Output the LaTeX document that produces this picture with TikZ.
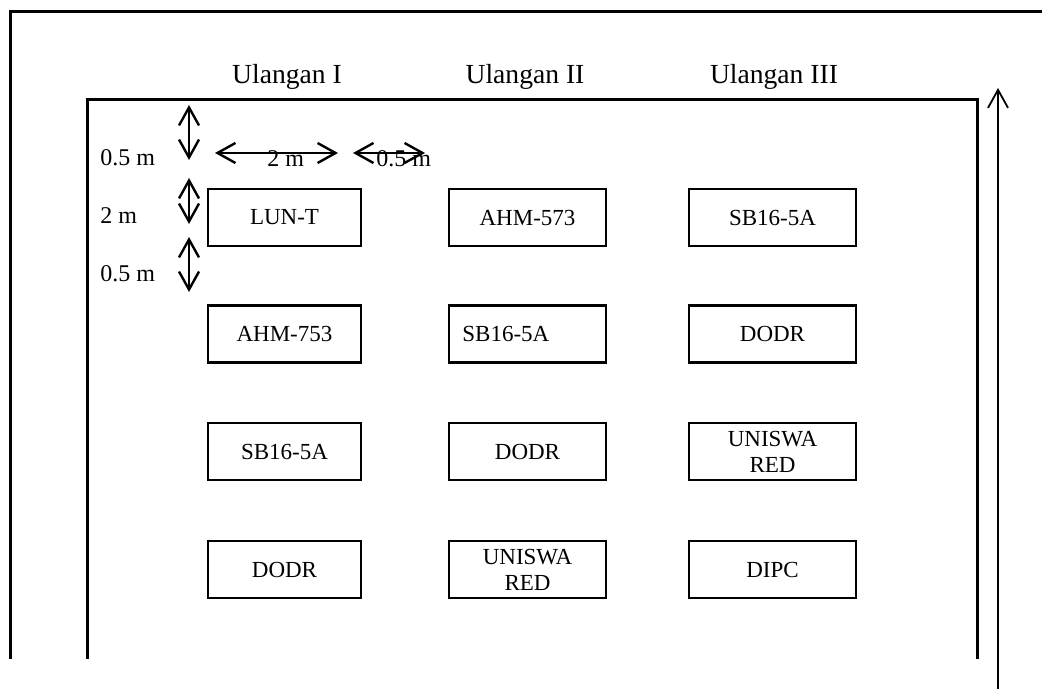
\documentclass[tikz,border=0pt]{standalone}
\usepackage{fontspec}
\setmainfont{Liberation Serif}
\usetikzlibrary{arrows.meta}
\tikzset{
  frame/.style={line width=1.5pt, line cap=rect},
  plotbox/.style={draw, line width=1.2pt, minimum height=28.5pt, inner sep=0pt, align=center,
    font=\fontsize{11.5pt}{13pt}\selectfont},
  dimarrow/.style={line width=1.2pt, {Straight Barb[length=9pt,width=10pt]}-{Straight Barb[length=9pt,width=10pt]}},
  uparrow/.style={line width=0.9pt, -{Straight Barb[length=9pt,width=10pt]}},
  lbl/.style={font=\fontsize{12pt}{14pt}\selectfont, inner sep=0pt, anchor=base west},
  hdr/.style={font=\fontsize{13.8pt}{16pt}\selectfont, inner sep=0pt, anchor=base}
}
\begin{document}
\begin{tikzpicture}[x=0.5pt,y=-0.5pt]
\useasboundingbox (0,0) rectangle (1042,689);
% outer frame
\coordinate (o1) at (10,12);
\coordinate (o2) at (1042,12);
\coordinate (o3) at (10,657);
\draw[frame] (o3) -- (o1) -- (o2);
% inner frame
\coordinate (i1) at (87,657);
\coordinate (i2) at (87,100);
\coordinate (i3) at (977,100);
\coordinate (i4) at (977,657);
\draw[frame] (i1) -- (i2) -- (i3) -- (i4);
% right arrow
\coordinate (ra) at (998,689);
\coordinate (rb) at (998,88);
\draw[uparrow] (ra) -- (rb);
% headers
\node[hdr] (h1) at (287,84) {Ulangan I};
\node[hdr] (h2) at (525,84) {Ulangan II};
\node[hdr] (h3) at (774,84) {Ulangan III};
% boxes
\node[plotbox, minimum width=76.5pt] (b11) at (284.5,217.5) {LUN-T};
\node[plotbox, minimum width=78.5pt] (b12) at (527.5,217.5) {AHM-573};
\node[plotbox, minimum width=83.5pt] (b13) at (772.5,217.5) {SB16-5A};
\node[plotbox, minimum width=76.5pt] (b21) at (284.5,334) {AHM-753};
\node[plotbox, minimum width=78.5pt] (b22) at (527.5,334) {};
\node[font=\fontsize{11.5pt}{13pt}\selectfont, inner sep=0pt, anchor=west] (t22) at (462,334) {SB16-5A};
\node[plotbox, minimum width=83.5pt] (b23) at (772.5,334) {DODR};
\node[plotbox, minimum width=76.5pt] (b31) at (284.5,451.5) {SB16-5A};
\node[plotbox, minimum width=78.5pt] (b32) at (527.5,451.5) {DODR};
\node[plotbox, minimum width=83.5pt] (b33) at (772.5,451.5) {UNISWA\\RED};
\node[plotbox, minimum width=76.5pt] (b41) at (284.5,569.5) {DODR};
\node[plotbox, minimum width=78.5pt] (b42) at (527.5,569.5) {UNISWA\\RED};
\node[plotbox, minimum width=83.5pt] (b43) at (772.5,569.5) {DIPC};
% dimension arrows
\coordinate (v1a) at (189,105); \coordinate (v1b) at (189,160);
\coordinate (v2a) at (189,178); \coordinate (v2b) at (189,224);
\coordinate (v3a) at (189,237); \coordinate (v3b) at (189,292);
\coordinate (h1a) at (215,153); \coordinate (h1b) at (338,153);
\coordinate (h2a) at (353,153); \coordinate (h2b) at (425,153);
\draw[dimarrow] (v1a) -- (v1b);
\draw[dimarrow] (v2a) -- (v2b);
\draw[dimarrow] (v3a) -- (v3b);
% labels
\node[lbl] (l1) at (100,166) {0.5 m};
\node[lbl] (l2) at (100,224) {2 m};
\node[lbl] (l3) at (100,282) {0.5 m};
\node[lbl] (l4) at (267,167) {2 m};
\node[lbl] (l5) at (376,167) {0.5 m};
\draw[dimarrow] (h1a) -- (h1b);
\draw[dimarrow] (h2a) -- (h2b);
\end{tikzpicture}
\end{document}
